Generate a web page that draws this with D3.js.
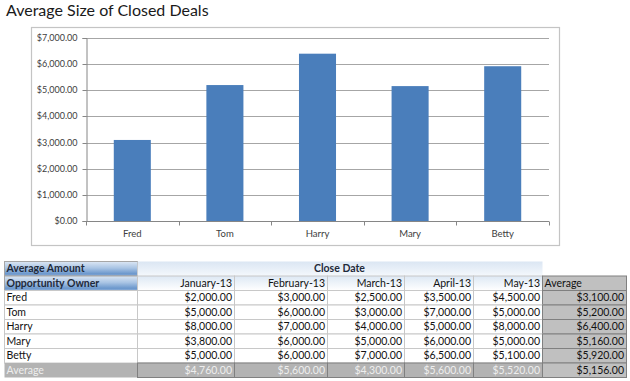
<!DOCTYPE html>
<html><head><meta charset="utf-8">
<script src="https://cdn.jsdelivr.net/npm/d3@7"></script>
<style>
html,body{margin:0;padding:0;background:#fff;}
svg{display:block;}
text{font-family:Lato,"Liberation Sans",sans-serif;}
</style></head>
<body>
<svg id="c" width="630" height="381"></svg>
<script>
// ---- data ----
const title = "Average Size of Closed Deals";
const owners = ["Fred", "Tom", "Harry", "Mary", "Betty"];
const months = ["January-13", "February-13", "March-13", "April-13", "May-13"];
const fredAmounts  = [2000, 3000, 2500, 3500, 4500];
const tomAmounts   = [5000, 6000, 3000, 7000, 5000];
const harryAmounts = [8000, 7000, 4000, 5000, 8000];
const maryAmounts  = [3800, 6000, 5000, 6000, 5000];
const bettyAmounts = [5000, 6000, 7000, 6500, 5100];
const ownerAverages = [3100, 5200, 6400, 5160, 5920];
const monthAverages = [4760, 5600, 4300, 5600, 5520];
const grandAverage = 5156;
const yTicks = [0, 1000, 2000, 3000, 4000, 5000, 6000, 7000];
const tableHeaders = ["Average Amount", "Close Date", "Opportunity Owner", "Average"];

const amounts = [fredAmounts, tomAmounts, harryAmounts, maryAmounts, bettyAmounts];
const fmt = d3.format("$,.2f");

const svg = d3.select("#c");
const defs = svg.append("defs");

// ---- title ----
svg.append("text").attr("x", 6).attr("y", 16)
  .attr("font-size", 16).attr("fill", "#1a1a1a").text(title);

// ---- chart ----
svg.append("rect").attr("x", 31.5).attr("y", 27.5).attr("width", 528).attr("height", 218)
  .attr("fill", "#fff").attr("stroke", "#c4c4c4").attr("stroke-width", 1.2);

const x = d3.scaleBand().domain(owners).range([86, 549]).paddingInner(0.6).paddingOuter(0.3);
const y = d3.scaleLinear().domain([0, 7000]).range([221, 38]);

// gridlines
svg.append("g").selectAll("line").data(yTicks.filter(d => d > 0)).join("line")
  .attr("x1", 86).attr("x2", 549)
  .attr("y1", d => Math.round(y(d)) + 0.5).attr("y2", d => Math.round(y(d)) + 0.5)
  .attr("stroke", "#a6a6a6");

// y axis
const yAxis = svg.append("g").attr("transform", "translate(86.5,0)")
  .call(d3.axisLeft(y).tickValues(yTicks).tickFormat(fmt).tickSize(4).tickPadding(5));
yAxis.select(".domain").attr("stroke", "#868686");
yAxis.selectAll(".tick line").attr("stroke", "#868686");
yAxis.selectAll("text").attr("font-size", 9).attr("fill", "#404040")
  .attr("font-family", "Lato, sans-serif");
yAxis.selectAll(".tick").attr("transform", d => `translate(0,${Math.round(y(d)) + 0.5})`);

// bars
svg.append("g").selectAll("rect").data(owners).join("rect")
  .attr("x", d => x(d)).attr("width", x.bandwidth())
  .attr("y", (d, i) => y(ownerAverages[i]))
  .attr("height", (d, i) => y(0) - y(ownerAverages[i]))
  .attr("fill", "#4a7ebb");

// x axis
const xAxisG = svg.append("g").attr("transform", `translate(0,${Math.round(y(0)) + 0.5})`);
xAxisG.append("line").attr("x1", 86).attr("x2", 549).attr("stroke", "#868686");
const step = x.step();
const boundaries = d3.range(owners.length + 1).map(i => 86 + i * step);
xAxisG.selectAll("line.t").data(boundaries).join("line").attr("class", "t")
  .attr("x1", d => Math.round(d) + 0.5).attr("x2", d => Math.round(d) + 0.5)
  .attr("y1", 0).attr("y2", 4).attr("stroke", "#868686");
xAxisG.selectAll("text").data(owners).join("text")
  .attr("x", d => x(d) + x.bandwidth() / 2).attr("y", 15)
  .attr("text-anchor", "middle").attr("font-size", 9.5).attr("fill", "#404040")
  .text(d => d);

// ---- table ----
const colEdges = [4, 137, 234, 327, 404, 473, 542, 626];
const rowY = d3.scaleLinear().domain([0, 8]).range([261, 377]);
const tfs = 10.5;

function grad(id, stops) {
  const g = defs.append("linearGradient").attr("id", id).attr("x1", 0).attr("y1", 0).attr("x2", 0).attr("y2", 1);
  stops.forEach(s => g.append("stop").attr("offset", s[0]).attr("stop-color", s[1]));
}
grad("blueHdr", [[0, "#dce7f4"], [0.45, "#a9c4e4"], [0.85, "#6b97cc"], [1, "#8fb0da"]]);
grad("lightHdr", [[0, "#dbe6f3"], [1, "#f4f8fc"]]);
grad("monthHdr", [[0, "#dde8f4"], [1, "#ffffff"]]);

const T = svg.append("g");
function cell(c0, c1, r, fill, stroke) {
  T.append("rect").attr("x", colEdges[c0] + 0.5).attr("y", rowY(r) + 0.5)
    .attr("width", colEdges[c1] - colEdges[c0]).attr("height", rowY(r + 1) - rowY(r))
    .attr("fill", fill).attr("stroke", stroke || "none");
}
function txt(c0, c1, r, s, anchor, color, weight) {
  const xx = anchor === "end" ? colEdges[c1] - 2 : anchor === "middle" ? (colEdges[c0] + colEdges[c1]) / 2 : colEdges[c0] + 2.5;
  T.append("text").attr("x", xx).attr("y", rowY(r) + 11)
    .attr("text-anchor", anchor).attr("font-size", tfs).attr("fill", color)
    .attr("font-weight", weight || "normal").text(s);
}

// header row 0
cell(0, 1, 0, "url(#blueHdr)", "#a6a6a6");
txt(0, 1, 0, tableHeaders[0], "start", "#1f2a3a", "bold");
cell(1, 6, 0, "url(#lightHdr)", null);
txt(1, 6, 0, tableHeaders[1], "middle", "#1f2a3a", "bold");
// header row 1
cell(0, 1, 1, "url(#blueHdr)", "#a6a6a6");
txt(0, 1, 1, tableHeaders[2], "start", "#1f2a3a", "bold");
months.forEach((m, i) => {
  cell(i + 1, i + 2, 1, "url(#monthHdr)", "#c8c8c8");
  txt(i + 1, i + 2, 1, m, "end", "#111");
});
cell(6, 7, 1, "#c0c0c0", "#808080");
txt(6, 7, 1, tableHeaders[3], "start", "#111");

// body rows
owners.forEach((o, r) => {
  const row = r + 2;
  cell(0, 1, row, "#fff", "#c8c8c8");
  txt(0, 1, row, o, "start", "#111");
  amounts[r].forEach((v, c) => {
    cell(c + 1, c + 2, row, "#fff", "#c8c8c8");
    txt(c + 1, c + 2, row, fmt(v), "end", "#111");
  });
  cell(6, 7, row, "#c0c0c0", "#808080");
  txt(6, 7, row, fmt(ownerAverages[r]), "end", "#111");
});

// average row
cell(0, 1, 7, "#b3b3b3", null);
txt(0, 1, 7, "Average", "start", "#eeeeee");
monthAverages.forEach((v, c) => {
  cell(c + 1, c + 2, 7, "#b3b3b3", "#808080");
  txt(c + 1, c + 2, 7, fmt(v), "end", "#eeeeee");
});
cell(6, 7, 7, "#c0c0c0", "#808080");
txt(6, 7, 7, fmt(grandAverage), "end", "#111");
</script>
</body></html>
